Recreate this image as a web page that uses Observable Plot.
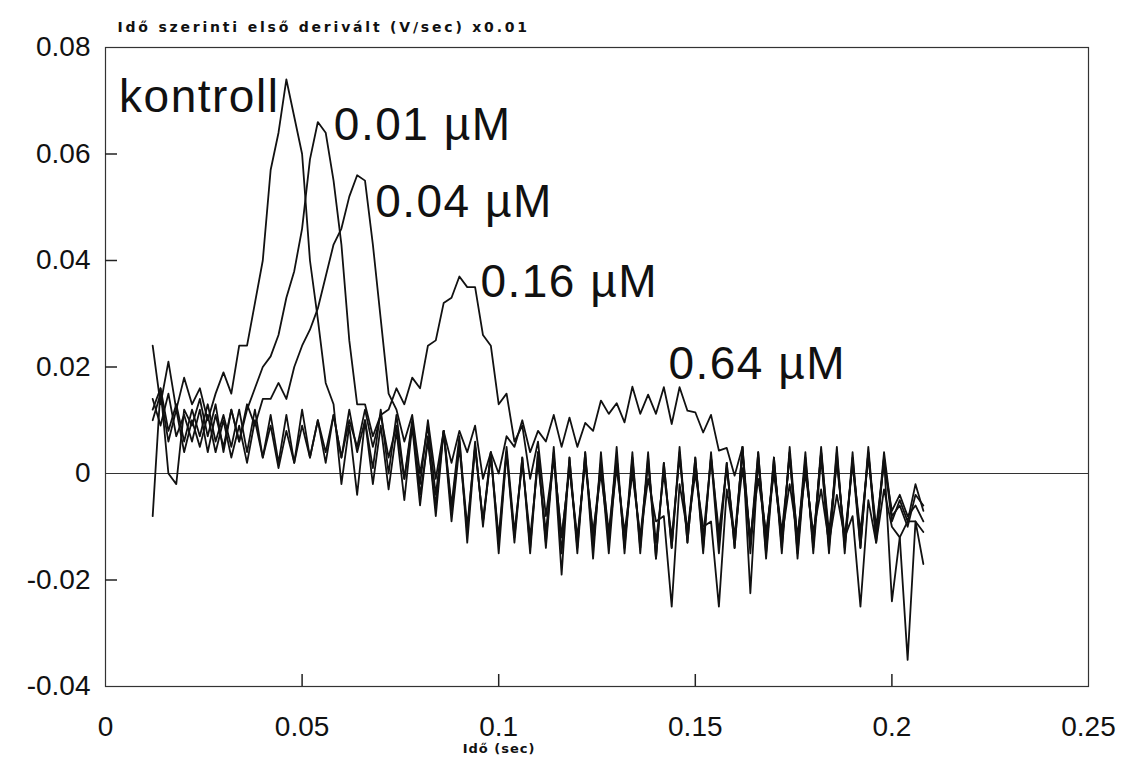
<!DOCTYPE html>
<html><head><meta charset="utf-8">
<script src="https://cdn.jsdelivr.net/npm/d3@7"></script>
<script src="https://cdn.jsdelivr.net/npm/@observablehq/plot@0.6"></script>
<style>
body{margin:0;background:#fff;}
#chart svg{display:block}
</style></head><body><div id="chart"></div>
<script>
// time (sec)
const time = [
0.012,0.014,0.016,0.018,0.020,0.022,0.024,0.026,0.028,0.030,
0.032,0.034,0.036,0.038,0.040,0.042,0.044,0.046,0.048,0.050,
0.052,0.054,0.056,0.058,0.060,0.062,0.064,0.066,0.068,0.070,
0.072,0.074,0.076,0.078,0.080,0.082,0.084,0.086,0.088,0.090,
0.092,0.094,0.096,0.098,0.100,0.102,0.104,0.106,0.108,0.110,
0.112,0.114,0.116,0.118,0.120,0.122,0.124,0.126,0.128,0.130,
0.132,0.134,0.136,0.138,0.140,0.142,0.144,0.146,0.148,0.150,
0.152,0.154,0.156,0.158,0.160,0.162,0.164,0.166,0.168,0.170,
0.172,0.174,0.176,0.178,0.180,0.182,0.184,0.186,0.188,0.190,
0.192,0.194,0.196,0.198,0.200,0.202,0.204,0.206,0.208];

const kontroll = [
0.024,0.013,0.021,0.012,0.018,0.013,0.016,0.010,0.015,0.019,
0.015,0.024,0.024,0.032,0.040,0.057,0.064,0.074,0.067,0.060,
0.040,0.029,0.017,0.013,-0.002,0.009,-0.004,0.010,-0.002,0.009,
-0.003,0.008,-0.005,0.009,-0.006,0.007,-0.008,0.008,-0.009,0.005,
-0.011,0.006,-0.010,0.004,-0.013,0.004,-0.012,0.003,-0.014,0.004,
-0.013,0.005,-0.015,0.003,-0.014,0.004,-0.016,0.004,-0.013,0.005,
-0.015,0.003,-0.014,0.004,-0.016,0.002,-0.014,0.005,-0.013,0.003,
-0.015,0.004,-0.013,0.002,-0.014,0.005,-0.015,0.004,-0.016,0.002,
-0.013,0.004,-0.015,0.003,-0.014,0.005,-0.013,0.004,-0.014,0.003,
-0.013,0.004,-0.012,0.003,-0.009,-0.005,-0.009,-0.002,-0.007];

const c001 = [
-0.008,0.016,0.000,-0.002,0.012,0.009,0.014,0.007,0.013,0.004,
0.012,0.006,0.012,0.016,0.020,0.022,0.026,0.033,0.038,0.046,
0.059,0.066,0.064,0.055,0.043,0.025,0.013,0.013,0.007,0.011,
0.003,0.009,-0.001,0.010,-0.004,0.006,-0.006,0.008,-0.007,0.006,
-0.010,0.005,-0.009,0.003,-0.012,0.005,-0.011,0.002,-0.012,0.002,
-0.011,0.003,-0.012,0.001,-0.013,0.003,-0.012,0.002,-0.011,0.003,
-0.013,0.001,-0.012,0.002,-0.013,0.000,-0.012,0.003,-0.011,0.002,
-0.012,0.003,-0.011,0.001,-0.012,0.004,-0.013,0.002,-0.012,0.001,
-0.011,0.003,-0.012,0.002,-0.013,0.004,-0.011,0.002,-0.012,0.002,
-0.011,0.003,-0.010,0.002,-0.007,-0.004,-0.008,-0.006,-0.009];

const c004 = [
0.014,0.009,0.015,0.007,0.011,0.006,0.012,0.004,0.011,0.005,
0.012,0.006,0.013,0.009,0.014,0.014,0.017,0.014,0.020,0.024,
0.027,0.031,0.037,0.043,0.046,0.052,0.056,0.055,0.043,0.029,
0.015,0.012,0.006,0.011,0.000,0.009,-0.004,0.008,-0.006,0.007,
-0.013,0.005,-0.009,0.004,-0.015,0.004,-0.013,0.003,-0.015,0.004,
-0.014,0.004,-0.019,0.003,-0.015,0.004,-0.014,0.002,-0.015,0.003,
-0.014,0.004,-0.015,0.003,-0.016,0.002,-0.014,0.004,-0.013,0.003,
-0.014,0.003,-0.015,0.002,-0.014,0.005,-0.0225,0.003,-0.015,0.003,
-0.014,0.004,-0.016,0.002,-0.013,0.004,-0.015,0.003,-0.013,0.002,
-0.014,0.004,-0.013,0.003,-0.024,-0.012,-0.009,-0.009,-0.011];

const c016 = [
0.010,0.015,0.006,0.012,0.004,0.010,0.005,0.011,0.004,0.010,
0.003,0.009,0.002,0.010,0.003,0.009,0.001,0.008,0.002,0.009,
0.003,0.010,0.004,0.011,0.003,0.010,0.005,0.012,0.005,0.011,
0.012,0.016,0.013,0.018,0.016,0.024,0.025,0.032,0.033,0.037,
0.035,0.035,0.026,0.024,0.013,0.015,0.006,0.009,-0.001,0.006,
-0.008,0.003,-0.012,0.001,-0.012,0.002,-0.011,0.000,-0.012,0.001,
-0.011,0.000,-0.012,-0.001,-0.009,-0.008,-0.025,-0.002,-0.011,0.000,
-0.010,-0.009,-0.025,-0.003,-0.012,0.001,-0.012,-0.001,-0.011,0.000,
-0.012,-0.002,-0.012,0.000,-0.011,-0.003,-0.013,-0.004,-0.012,-0.008,
-0.025,-0.005,-0.013,-0.003,-0.010,-0.012,-0.035,-0.009,-0.017];

const c064 = [
0.012,0.016,0.008,0.013,0.006,0.012,0.007,0.013,0.006,0.011,
0.005,0.012,0.004,0.012,0.003,0.011,0.002,0.011,0.002,0.012,
0.003,0.010,0.002,0.011,0.003,0.012,0.004,0.010,0.001,0.012,
0.000,0.011,-0.001,0.009,-0.002,0.010,-0.001,0.008,0.002,0.008,
0.004,0.009,-0.001,0.004,0.000,0.007,0.005,0.010,0.004,0.008,
0.006,0.011,0.005,0.0105,0.005,0.0095,0.008,0.0137,0.0112,0.0132,
0.0096,0.0163,0.0112,0.0148,0.0112,0.0162,0.0093,0.0162,0.0118,0.0115,
0.0077,0.011,0.0043,0.0048,-0.0004,0.005,-0.013,0.004,-0.014,0.003,
-0.015,0.005,-0.013,0.004,-0.015,0.003,-0.014,0.005,-0.015,0.004,
-0.014,0.005,-0.012,0.004,-0.008,-0.006,-0.010,-0.004,-0.006];

const seriesNames = ["kontroll", "0.01 µM", "0.04 µM", "0.16 µM", "0.64 µM"];
const seriesValues = [kontroll, c001, c004, c016, c064];

const xTicks = [0, 0.05, 0.1, 0.15, 0.2, 0.25];
const xTickLabels = ["0", "0.05", "0.1", "0.15", "0.2", "0.25"];
const yTicks = [0.08, 0.06, 0.04, 0.02, 0, -0.02, -0.04];
const yTickLabels = ["0.08", "0.06", "0.04", "0.02", "0", "-0.02", "-0.04"];
const yInnerTicks = [0.06, 0.04, 0.02, -0.02];
const xInnerTicks = [0.05, 0.1, 0.15, 0.2];
const yTitle = "Idő szerinti első derivált (V/sec) x0.01";
const xTitle = "Idő (sec)";

// build table
const rows = seriesNames.flatMap((name, k) =>
  seriesValues[k].map((v, i) => ({t: time[i], v, name})));

const font = "'Liberation Sans', Arial, sans-serif";
const W = 1122, H = 760, mL = 105, mR = 34, mT = 47, mB = 74, tickLen = 12;

// label placement relative to each curve's peak (style offsets only)
const labelStyle = {
  "kontroll": {dx: -7, dy: 33, anchor: "end"},
  "0.01 µM": {dx: 16, dy: 18, anchor: "start"},
  "0.04 µM": {dx: 18, dy: 42, anchor: "start"},
  "0.16 µM": {dx: 21, dy: 21, anchor: "start"},
  "0.64 µM": {dx: 36, dy: -8, anchor: "start"}
};
const labelMarks = seriesNames.map((name, k) => {
  const i = d3.maxIndex(seriesValues[k]);
  const s = labelStyle[name];
  return Plot.text([{t: time[i], v: seriesValues[k][i], name}], {
    x: "t", y: "v", text: "name", dx: s.dx, dy: s.dy, textAnchor: s.anchor,
    lineAnchor: "bottom", fontSize: 46, fill: "#111", fontFamily: font
  });
});

const plot = Plot.plot({
  width: W, height: H,
  marginLeft: mL, marginRight: mR, marginTop: mT, marginBottom: mB,
  x: {domain: [0, 0.25]},
  y: {domain: [-0.04, 0.08]},
  style: {background: "#fff", color: "#111", fontFamily: font},
  marks: [
    Plot.ruleY([0], {stroke: "#333", strokeWidth: 1}),
    Plot.line(rows, {x: "t", y: "v", z: "name", stroke: "#111", strokeWidth: 1.8}),
    Plot.frame({stroke: "#333", strokeWidth: 1.2}),
    Plot.axisY(yTicks, {tickSize: 0, tickPadding: 15, fontSize: 28, label: null,
      tickFormat: d => yTickLabels[yTicks.indexOf(d)]}),
    Plot.axisX(xTicks, {tickSize: 0, tickPadding: 30, fontSize: 28, label: null,
      tickFormat: d => xTickLabels[xTicks.indexOf(d)]}),
    Plot.text([yTitle], {frameAnchor: "top-left", dx: 12, dy: -20, textAnchor: "start",
      lineAnchor: "middle", fontSize: 14, fontWeight: "bold", fill: "#111",
      fontFamily: "'DejaVu Sans', sans-serif"}),
    Plot.text([xTitle], {frameAnchor: "bottom", dx: -98, dy: 62, textAnchor: "middle",
      lineAnchor: "middle", fontSize: 13, fontWeight: "bold", fill: "#111",
      fontFamily: "'DejaVu Sans', sans-serif"}),
    ...labelMarks,
    // inward tick marks on the left and bottom frame edges
    Plot.ruleY(yInnerTicks, {insetRight: (W - mL - mR) - tickLen, stroke: "#222", strokeWidth: 1.5}),
    Plot.ruleX(xInnerTicks, {insetTop: (H - mT - mB) - tickLen, stroke: "#222", strokeWidth: 1.5})
  ]
});
const svg = d3.select(plot);
svg.selectAll("text").filter(function() { return this.textContent === yTitle; })
  .attr("letter-spacing", "2.8px");
svg.selectAll("text").filter(function() { return this.textContent === xTitle; })
  .attr("letter-spacing", "1px");
svg.selectAll("text").filter(function() { return seriesNames.includes(this.textContent); })
  .attr("letter-spacing", "1.5px");
document.getElementById("chart").appendChild(plot);
</script>
</body></html>
